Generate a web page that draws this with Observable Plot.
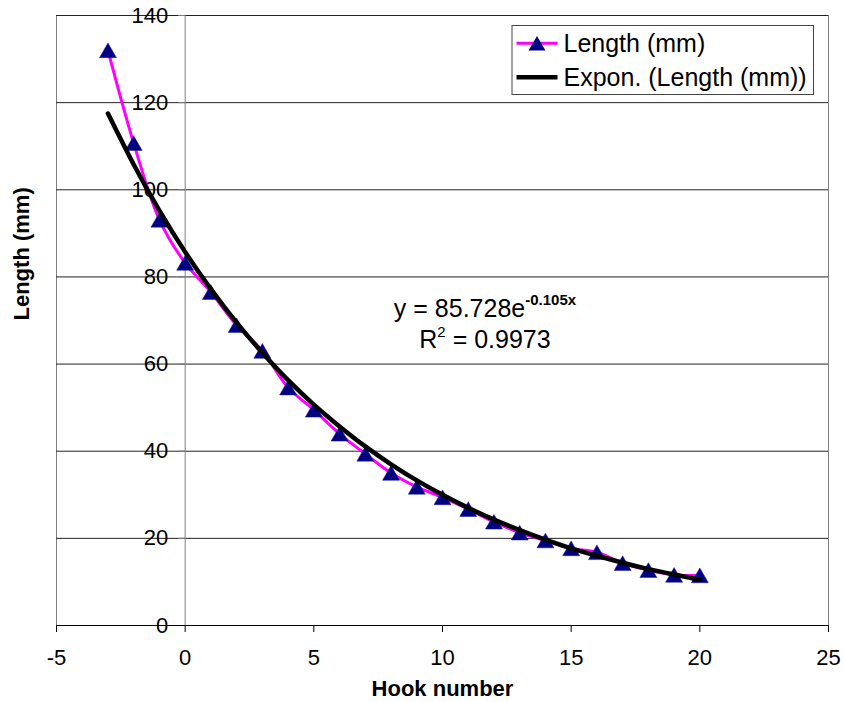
<!DOCTYPE html>
<html><head><meta charset="utf-8">
<script src="https://cdn.jsdelivr.net/npm/d3@7"></script>
<script src="https://cdn.jsdelivr.net/npm/@observablehq/plot@0.6"></script>
<style>body{margin:0;background:#fff} svg{display:block}</style>
</head><body><div id="chart"></div>
<script>
// ---- data ----
const hookNumbers = [-3,-2,-1,0,1,2,3,4,5,6,7,8,9,10,11,12,13,14,15,16,17,18,19,20];
const lengths = [132,110.7,93.1,83.2,76.5,68.9,63.0,54.6,49.5,44.0,39.4,35.0,31.8,29.4,26.7,23.8,21.3,19.5,17.7,16.8,14.3,12.7,11.6,11.5];
const trendHooks = [-3,-2,-1,0,1,2,3,4,5,6,7,8,9,10,11,12,13,14,15,16,17,18,19,20];
const trendLengths = [117.5,105.8,95.2,85.7,77.2,69.5,62.6,56.3,50.7,45.7,41.1,37.0,33.3,30.0,27.0,24.3,21.9,19.7,17.7,16.0,14.4,12.95,11.7,10.5];
const xTicks = [-5,0,5,10,15,20,25];
const yTicks = [0,20,40,60,80,100,120,140];
const xTitle = "Hook number";
const yTitle = "Length (mm)";
const seriesName = "Length (mm)";
const trendName = "Expon. (Length (mm))";
const eqMain = "y = 85.728e";
const eqExp = "-0.105x";
const r2Base = "R";
const r2Sup = "2";
const r2Rest = " = 0.9973";
const eqAt = {x: 11.67, y: 70.6};

// ---- layout ----
const W = 844, H = 702, mL = 56, mR = 16, mT = 15, mB = 77;
const xDomain = [-5, 25], yDomain = [0, 140];
const pxPerX = (W - mL - mR) / (xDomain[1] - xDomain[0]);
const font = '"Liberation Sans", Arial, sans-serif';

const data = hookNumbers.map((h, i) => ({hook: h, length: lengths[i]}));
const trend = trendHooks.map((h, i) => ({hook: h, length: trendLengths[i]}));

const plot = Plot.plot({
  width: W, height: H,
  marginLeft: mL, marginRight: mR, marginTop: mT, marginBottom: mB,
  style: {fontFamily: font, fontSize: "22px", background: "#fff", color: "#000"},
  x: {domain: xDomain},
  y: {domain: yDomain, axis: null},
  marks: [
    Plot.frame({stroke: "#808080"}),
    Plot.ruleY(yTicks.filter(d => d > 0), {y: d => d, stroke: "#222", strokeWidth: 1}),
    Plot.ruleX([0], {x: d => d, y1: 0, y2: 140, stroke: "#808080"}),
    Plot.ruleY(yTicks, {y: d => d, x1: 0, x2: -6.5 / pxPerX, stroke: "#808080"}),
    Plot.text(yTicks, {x: 0, y: d => d, text: d => String(d), textAnchor: "end", lineAnchor: "middle", dx: -17, fontSize: 22}),
    Plot.ruleY([0], {y: d => d, stroke: "#000"}),
    Plot.axisX({ticks: xTicks, tickFormat: d => String(d), tickSize: 7, tickPadding: 17, label: null, fontSize: 22}),
    Plot.text([xTitle], {frameAnchor: "bottom", text: d => d, lineAnchor: "middle", dy: 63, fontWeight: "bold", fontSize: 22}),
    Plot.text([yTitle], {frameAnchor: "left", text: d => d, lineAnchor: "middle", rotate: -90, dx: -34.5, fontWeight: "bold", fontSize: 22}),
    Plot.line(data, {x: "hook", y: "length", stroke: "#ff00ff", strokeWidth: 3, curve: "catmull-rom"}),
    Plot.dot(data, {x: "hook", y: "length", symbol: "triangle", r: 6.3, fill: "#000080", stroke: "#1a1a9a", strokeWidth: 0.5, dy: 2.4}),
    Plot.line(trend, {x: "hook", y: "length", stroke: "#000", strokeWidth: 4.5, curve: "natural"})
  ]
});

document.getElementById("chart").appendChild(plot);

// ---- equation annotation & legend ----
const svg = d3.select(plot);
const sx = v => { try { return plot.scale("x").apply(v); } catch (e) { return mL + (v - xDomain[0]) * pxPerX; } };
const sy = v => { try { return plot.scale("y").apply(v); } catch (e) { return H - mB - (v - yDomain[0]) * (H - mT - mB) / (yDomain[1] - yDomain[0]); } };

const ex = sx(eqAt.x), ey = sy(eqAt.y);
const t1 = svg.append("text").attr("x", ex).attr("y", ey).attr("text-anchor", "middle")
  .style("font-family", font).style("font-size", "25px").style("white-space", "pre").attr("fill", "#000");
t1.append("tspan").text(eqMain);
t1.append("tspan").attr("dy", -12.5).style("font-size", "15px").style("font-weight", "bold").text(eqExp);

const t2 = svg.append("text").attr("x", ex).attr("y", ey + 30.5).attr("text-anchor", "middle")
  .style("font-family", font).style("font-size", "25px").style("white-space", "pre").attr("fill", "#000");
t2.append("tspan").text(r2Base);
t2.append("tspan").attr("dy", -11).style("font-size", "15px").text(r2Sup);
t2.append("tspan").attr("dy", 11).text(r2Rest);

// legend box inside the plot frame (top-right)
const lgW = 301.5, lgH = 69;
const lgX = W - mR - 15 - lgW, lgY = mT + 10;
const lg = svg.append("g").attr("transform", `translate(${lgX},${lgY})`);
lg.append("rect").attr("x", 0.5).attr("y", 0.5).attr("width", lgW).attr("height", lgH)
  .attr("fill", "#fff").attr("stroke", "#444").attr("stroke-width", 1);
// entry 1
lg.append("line").attr("x1", 5).attr("x2", 46).attr("y1", 18.3).attr("y2", 18.3)
  .attr("stroke", "#ff00ff").attr("stroke-width", 3);
lg.append("path").attr("d", d3.symbol(d3.symbolTriangle, Math.PI * 6.3 * 6.3)())
  .attr("transform", `translate(25.5,${18.3 + 2.4})`).attr("fill", "#000080");
lg.append("text").attr("x", 52).attr("y", 26.7).attr("text-anchor", "start").text(seriesName)
  .style("font-family", font).style("font-size", "25px").attr("fill", "#000");
// entry 2
lg.append("line").attr("x1", 5).attr("x2", 46).attr("y1", 52.3).attr("y2", 52.3)
  .attr("stroke", "#000").attr("stroke-width", 4.5);
lg.append("text").attr("x", 52).attr("y", 60.5).attr("text-anchor", "start").text(trendName)
  .style("font-family", font).style("font-size", "25px").attr("fill", "#000");
</script>
</body></html>
